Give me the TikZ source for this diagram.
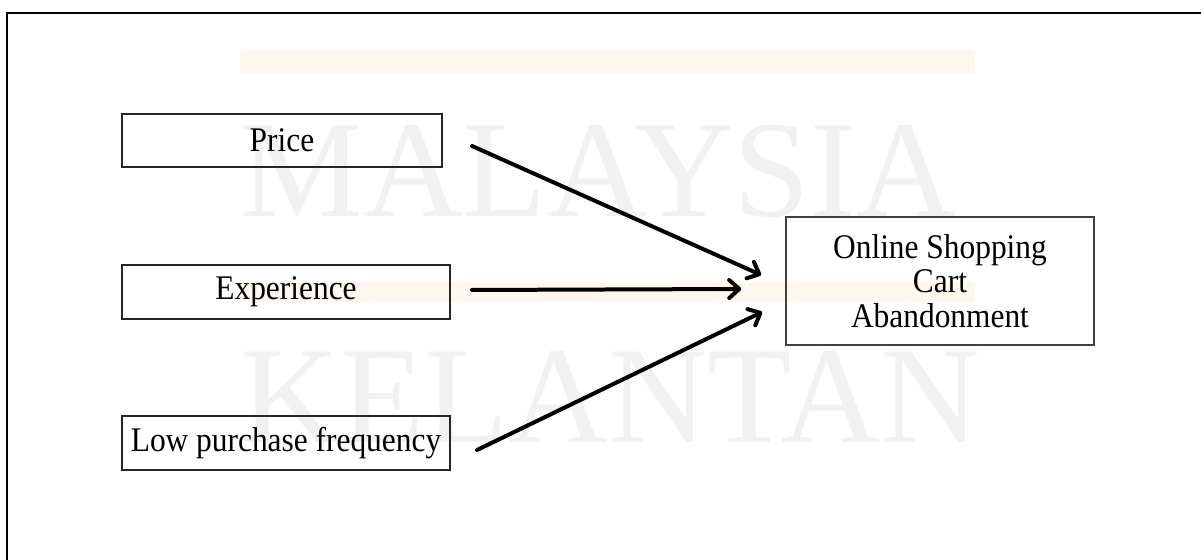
\documentclass[tikz,border=0pt]{standalone}
\usepackage{fontspec}
\setmainfont{Liberation Serif}
\usetikzlibrary{arrows.meta,calc}
\definecolor{wmgray}{HTML}{F1F1F1}
\definecolor{wmorange}{HTML}{FFF6EE}
\newcommand\tallline[1]{\scalebox{1}[1.1]{#1}}
\tikzset{
  factor/.style={draw=black!85,line width=1pt,inner sep=0pt,font=\fontsize{15.7}{16.25}\selectfont,align=center},
  outcome/.style={draw=black!75,line width=0.8pt,inner sep=0pt,font=\fontsize{15.7}{17.4}\selectfont,align=center},
  arr/.style={line width=2pt,line cap=round,-{Straight Barb[length=5pt,width=9pt,round]}},
  watermark/.style={text=wmgray,font=\fontsize{69}{69}\selectfont,inner sep=0pt,anchor=base west},
}
\begin{document}
\begin{tikzpicture}[x=0.5pt,y=-0.5pt]
\useasboundingbox (0,0) rectangle (1201,560);
% watermark
\fill[wmorange] (240,50) rectangle (975,73);
\fill[wmorange] (240,283) rectangle (975,302);
\node[watermark] (wm1) at (240,217) {MALAYSIA};
\node[watermark] (wm2) at (240,443) {KELANTAN};
% frame
\coordinate (fbl) at (7,562);
\coordinate (ftl) at (7,13);
\coordinate (ftr) at (1203,13);
\draw[line width=1pt] (fbl) -- (ftl) -- (ftr);
% nodes
\node[factor,minimum width=160pt,minimum height=26.5pt] (price) at (282,140.5) {\tallline{Price}};
\node[factor,minimum width=164pt,minimum height=27pt] (exp) at (286,292) {\tallline{Experience}};
\node[factor,minimum width=164pt,minimum height=27pt] (low) at (286,443) {\tallline{Low purchase frequency}};
\node[outcome,minimum width=154pt,minimum height=64pt] (out) at (940,281) {\tallline{Online Shopping}\\\tallline{Cart}\\\tallline{Abandonment}};
% connectors
\draw[arr] ($(price.east)+(29,5.5)$) -- ($(out.west)+(-24,-6)$);
\draw[arr] ($(exp.east)+(21,-2)$) -- ($(out.west)+(-44,8)$);
\draw[arr] ($(low.east)+(26,7)$) -- ($(out.west)+(-23,31)$);
\end{tikzpicture}
\end{document}
